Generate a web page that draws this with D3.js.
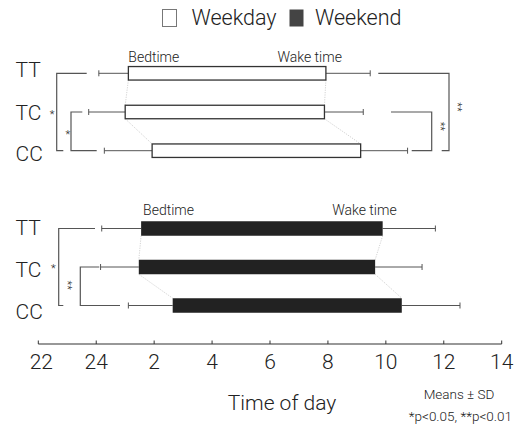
<!DOCTYPE html>
<html><head><meta charset="utf-8">
<script src="https://cdn.jsdelivr.net/npm/d3@7"></script>
<style>body{margin:0;background:#fff}svg{display:block}text{font-family:Roboto,"Liberation Sans",sans-serif;font-weight:300;fill:#222}</style>
</head><body><svg id="c" width="529" height="433"></svg>
<script>
// ---- data (clock hours) ----
const genotypes = ["TT","TC","CC"];
const weekdayBed = [1.11, 1.00, 1.93];
const weekdayBedSD = [1.02, 1.26, 1.65];
const weekdayWake = [7.93, 7.88, 9.13];
const weekdayWakeSD = [1.53, 1.34, 1.62];
const weekendBed = [1.55, 1.47, 2.64];
const weekendBedSD = [1.36, 1.32, 1.53];
const weekendWake = [9.89, 9.63, 10.55];
const weekendWakeSD = [1.82, 1.62, 2.01];
const tickValues = [22,24,26,28,30,32,34,36,38];
const tickLabels = ["22","24","2","4","6","8","10","12","14"];
const legendLabels = ["Weekday","Weekend"];

const svg = d3.select("#c");
const cont = h => h < 22 ? h + 24 : h;
const x = d3.scaleLinear().domain([22,38]).range([38.3,501.7]);

// legend
const leg = svg.append("g");
leg.append("rect").attr("x",162.5).attr("y",9.5).attr("width",14).attr("height",17).attr("fill","#fff").attr("stroke","#777").attr("stroke-width",1);
leg.append("text").attr("x",191.5).attr("y",25).attr("font-size",21.5).text(legendLabels[0]);
leg.append("rect").attr("x",289.5).attr("y",9.5).attr("width",14).attr("height",17).attr("fill","#444");
leg.append("text").attr("x",315).attr("y",25).attr("font-size",21.5).text(legendLabels[1]);

function panel(cfg){
  const y = d3.scalePoint().domain(genotypes).range(cfg.rows);
  const g = svg.append("g");
  const rows = genotypes.map((k,i)=>({k,
    bed:cont(cfg.bed[i]), bedSD:cfg.bedSD[i], wake:cont(cfg.wake[i]), wakeSD:cfg.wakeSD[i]}));
  const bh = cfg.bh;
  // labels
  g.selectAll(".lab").data(rows).join("text")
    .attr("x",15.5).attr("y",(d,i)=>y(d.k)+cfg.labDy[i]).attr("font-size",21).attr("dominant-baseline","central")
    .text(d=>d.k);
  // connectors
  for(let i=0;i<rows.length-1;i++){
    const a=rows[i], b=rows[i+1];
    [[a.bed,b.bed],[a.wake,b.wake]].forEach(([p,q])=>{
      g.append("line").attr("x1",x(p)).attr("y1",y(a.k)+bh/2).attr("x2",x(q)).attr("y2",y(b.k)-bh/2)
        .attr("stroke","#c8c8c8").attr("stroke-width",0.8).attr("stroke-dasharray","1.2,1.2");
    });
  }
  // error bars
  rows.forEach(d=>{
    const yy=y(d.k);
    [[d.bed, d.bed-d.bedSD],[d.wake, d.wake+d.wakeSD]].forEach(([p,q])=>{
      g.append("line").attr("x1",x(p)).attr("x2",x(q)).attr("y1",yy).attr("y2",yy).attr("stroke","#555").attr("stroke-width",1);
      g.append("line").attr("x1",x(q)).attr("x2",x(q)).attr("y1",yy-3).attr("y2",yy+3).attr("stroke","#555").attr("stroke-width",1);
    });
  });
  // bars
  g.selectAll(".bar").data(rows).join("rect")
    .attr("x",d=>x(d.bed)).attr("width",d=>x(d.wake)-x(d.bed))
    .attr("y",d=>y(d.k)-bh/2).attr("height",bh)
    .attr("fill",cfg.fill).attr("stroke",cfg.stroke).attr("stroke-width",cfg.sw);
  // bed/wake labels
  const tt=rows[0];
  g.append("text").attr("x",x(tt.bed)+cfg.bedDx).attr("y",cfg.labY).attr("font-size",14).text("Bedtime");
  g.append("text").attr("x",x(tt.wake)+cfg.wakeDx).attr("y",cfg.labY).attr("font-size",14).attr("text-anchor","end").text("Wake time");
  // brackets
  cfg.brackets.forEach(b=>{
    const y1=y(b.from), y2=y(b.to);
    const p = d3.path();
    p.moveTo(b.a1,y1); p.lineTo(b.vx,y1); p.lineTo(b.vx,y2); p.lineTo(b.a2,y2);
    g.append("path").attr("d",p.toString()).attr("fill","none").attr("stroke","#555").attr("stroke-width",1.2);
    g.append("text").attr("font-size",11).attr("text-anchor","middle").attr("fill","#555")
      .attr("transform",`translate(${b.sx},${(y1+y2)/2+b.sdy}) rotate(${b.stars.length>1?90:0})`)
      .attr("dominant-baseline","central").text(b.stars);
  });
}

panel({rows:[73.3,150.7], bed:weekdayBed, bedSD:weekdayBedSD, wake:weekdayWake, wakeSD:weekdayWakeSD,
  bh:13.5, fill:"#fff", stroke:"#333", sw:1.3, labY:62, bedDx:0, wakeDx:16, labDy:[-3,0.5,3.5],
  brackets:[
    {from:"TT",to:"CC",vx:56.7,a1:86.7,a2:63.3,stars:"*",sx:52,sdy:2},
    {from:"TC",to:"CC",vx:71,a1:82.3,a2:96.7,stars:"*",sx:67.8,sdy:3},
    {from:"TT",to:"CC",vx:449,a1:378.3,a2:441.7,stars:"**",sx:457.5,sdy:-5},
    {from:"TC",to:"CC",vx:431.7,a1:391,a2:411.7,stars:"**",sx:440,sdy:-5}
  ]});
panel({rows:[228.5,305.5], bed:weekendBed, bedSD:weekendBedSD, wake:weekendWake, wakeSD:weekendWakeSD,
  bh:14.5, fill:"#222", stroke:"none", sw:0, labY:215, bedDx:2, wakeDx:14, labDy:[-1,2.5,6.5],
  brackets:[
    {from:"TT",to:"CC",vx:58.7,a1:95,a2:63.3,stars:"*",sx:53.3,sdy:1},
    {from:"TC",to:"CC",vx:80.3,a1:99.3,a2:120,stars:"**",sx:67.5,sdy:-1}
  ]});

// axis
const ax = svg.append("g").attr("transform","translate(0,344)");
ax.append("line").attr("x1",x(22)).attr("x2",x(38)).attr("stroke","#333").attr("stroke-width",1.2);
ax.selectAll(".tk").data(tickValues).join("line").attr("x1",d=>x(d)).attr("x2",d=>x(d)).attr("y1",0).attr("y2",-3.5).attr("stroke","#333").attr("stroke-width",1);
ax.selectAll(".tl").data(tickValues).join("text").attr("x",(d,i)=>x(d)+ (i===0?3:0)).attr("y",25).attr("text-anchor","middle").attr("font-size",21)
  .text((d,i)=>tickLabels[i]);
svg.append("text").attr("x",282).attr("y",410).attr("text-anchor","middle").attr("font-size",21).text("Time of day");
svg.append("text").attr("x",459).attr("y",398.5).attr("text-anchor","middle").attr("font-size",13.5).text("Means ± SD");
svg.append("text").attr("x",512).attr("y",421).attr("text-anchor","end").attr("font-size",13.5).text("*p<0.05, **p<0.01");
</script></body></html>
